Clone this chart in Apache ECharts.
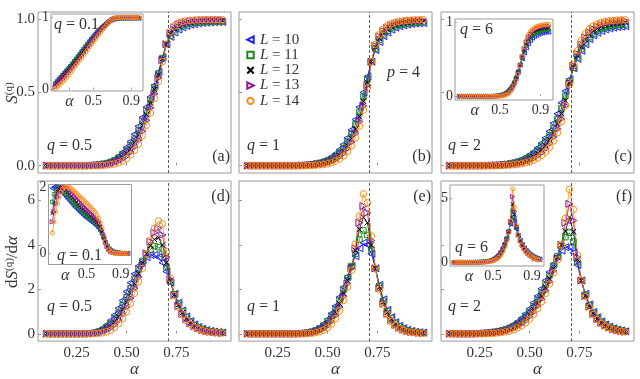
<!DOCTYPE html>
<html><head><meta charset="utf-8">
<script src="https://cdn.jsdelivr.net/npm/echarts@6/dist/echarts.min.js"></script>
<style>html,body{margin:0;padding:0;background:#fff}#c{width:640px;height:379px}</style>
</head><body><div id="c"></div>
<script>
// ---------- DATA ----------
const alpha = [0.10,0.12,0.14,0.16,0.18, 0.20,0.22,0.24,0.26,0.28, 0.30,0.32,0.34,0.36,0.38, 0.40,0.42,0.44,0.46,0.48,
  0.50,0.52,0.54,0.56,0.58, 0.60,0.62,0.64,0.66,0.68, 0.70,0.72,0.74,0.76,0.78, 0.80,0.82,0.84,0.86,0.88, 0.90,0.92,0.94,0.96,0.98];
const alphaC = 0.707;
const seriesNames = ['L = 10','L = 11','L = 12','L = 13','L = 14'];
const xTicks = [0.25, 0.50, 0.75];
const insetXTicks = [0.25, 0.5, 0.9];

// (a) S^(q), q = 0.5
const a10 = [0,0,0,0,0, 0,0,0,0,0, 0.002,0.004,0.006,0.01,0.015, 0.022,0.032,0.046,0.066,0.092, 0.125,0.165,0.215,0.27,0.33, 0.40,0.47,0.55,0.64,0.74, 0.83,0.88,0.91,0.93,0.945, 0.955,0.963,0.968,0.972,0.975, 0.977,0.979,0.98,0.981,0.982];
const a11 = [0,0,0,0,0, 0,0,0,0,0, 0.001,0.002,0.004,0.007,0.011, 0.017,0.025,0.037,0.053,0.075, 0.104,0.14,0.185,0.24,0.305, 0.375,0.45,0.535,0.63,0.735, 0.83,0.89,0.925,0.945,0.958, 0.967,0.973,0.977,0.98,0.982, 0.984,0.985,0.986,0.987,0.988];
const a12 = [0,0,0,0,0, 0,0,0,0,0, 0,0.001,0.002,0.004,0.007, 0.011,0.018,0.027,0.04,0.058, 0.083,0.115,0.157,0.21,0.275, 0.35,0.43,0.52,0.62,0.73, 0.83,0.9,0.935,0.955,0.967, 0.975,0.98,0.984,0.987,0.989, 0.99,0.991,0.992,0.993,0.993];
const a13 = [0,0,0,0,0, 0,0,0,0,0, 0,0,0,0.002,0.004, 0.007,0.012,0.019,0.029,0.044, 0.064,0.092,0.128,0.175,0.235, 0.31,0.395,0.49,0.6,0.72, 0.83,0.905,0.945,0.965,0.976, 0.983,0.987,0.99,0.992,0.994, 0.995,0.995,0.996,0.996,0.996];
const a14 = [0,0,0,0,0, 0,0,0,0,0, 0,0,0,0,0.002, 0.004,0.007,0.012,0.02,0.032, 0.049,0.073,0.105,0.148,0.205, 0.275,0.36,0.46,0.575,0.71, 0.83,0.915,0.955,0.974,0.984, 0.99,0.993,0.995,0.997,0.998, 0.998,0.998,0.998,0.998,0.998];

// (b) S^(q), q = 1
const b10 = [0,0,0,0,0, 0,0,0,0,0, 0,0.001,0.002,0.003,0.005, 0.008,0.012,0.017,0.024,0.033, 0.045,0.061,0.082,0.11,0.145, 0.19,0.245,0.315,0.4,0.5, 0.61,0.71,0.79,0.845,0.885, 0.91,0.93,0.943,0.952,0.959, 0.964,0.968,0.971,0.973,0.975];
const b11 = [0,0,0,0,0, 0,0,0,0,0, 0,0,0.001,0.002,0.003, 0.005,0.008,0.012,0.017,0.024, 0.034,0.047,0.065,0.089,0.12, 0.162,0.215,0.283,0.368,0.47, 0.59,0.71,0.8,0.858,0.897, 0.922,0.94,0.952,0.961,0.967, 0.972,0.975,0.978,0.98,0.981];
const b12 = [0,0,0,0,0, 0,0,0,0,0, 0,0,0,0.001,0.002, 0.003,0.005,0.008,0.012,0.018, 0.026,0.037,0.052,0.073,0.1, 0.137,0.186,0.25,0.335,0.44, 0.57,0.71,0.81,0.87,0.908, 0.933,0.95,0.962,0.97,0.976, 0.98,0.983,0.985,0.987,0.988];
const b13 = [0,0,0,0,0, 0,0,0,0,0, 0,0,0,0,0.001, 0.002,0.003,0.005,0.008,0.012, 0.019,0.028,0.041,0.059,0.083, 0.116,0.16,0.22,0.302,0.41, 0.55,0.71,0.82,0.883,0.92, 0.944,0.96,0.971,0.978,0.983, 0.987,0.989,0.991,0.992,0.993];
const b14 = [0,0,0,0,0, 0,0,0,0,0, 0,0,0,0,0, 0.001,0.002,0.003,0.005,0.008, 0.013,0.02,0.031,0.046,0.067, 0.096,0.136,0.19,0.27,0.38, 0.53,0.71,0.83,0.895,0.932, 0.955,0.97,0.98,0.986,0.99, 0.993,0.995,0.996,0.997,0.998];

// (c) S^(q), q = 2
const c10 = [0,0,0,0,0, 0,0,0,0.001,0.002, 0.003,0.004,0.006,0.009,0.013, 0.018,0.024,0.032,0.043,0.057, 0.075,0.096,0.122,0.153,0.19, 0.235,0.29,0.355,0.43,0.51, 0.59,0.665,0.73,0.785,0.83, 0.865,0.89,0.908,0.921,0.931, 0.938,0.943,0.947,0.95,0.953];
const c11 = [0,0,0,0,0, 0,0,0,0,0.001, 0.002,0.003,0.004,0.006,0.009, 0.013,0.018,0.025,0.034,0.046, 0.061,0.08,0.103,0.131,0.165, 0.207,0.258,0.32,0.393,0.477, 0.575,0.668,0.74,0.797,0.843, 0.878,0.903,0.921,0.934,0.944, 0.951,0.956,0.96,0.963,0.966];
const c12 = [0,0,0,0,0, 0,0,0,0,0, 0.001,0.002,0.003,0.004,0.006, 0.009,0.013,0.018,0.025,0.034, 0.046,0.062,0.082,0.107,0.139, 0.178,0.226,0.284,0.356,0.444, 0.565,0.675,0.752,0.813,0.861, 0.895,0.92,0.937,0.95,0.959, 0.966,0.971,0.975,0.978,0.98];
const c13 = [0,0,0,0,0, 0,0,0,0,0, 0,0.001,0.002,0.003,0.004, 0.006,0.009,0.013,0.019,0.026, 0.036,0.049,0.066,0.088,0.116, 0.151,0.195,0.25,0.32,0.41, 0.56,0.682,0.765,0.828,0.876, 0.911,0.935,0.952,0.964,0.973, 0.979,0.983,0.986,0.988,0.99];
const c14 = [0,0,0,0,0, 0,0,0,0,0, 0,0,0.001,0.002,0.003, 0.004,0.006,0.009,0.013,0.019, 0.027,0.037,0.051,0.07,0.094, 0.125,0.168,0.225,0.3,0.41, 0.555,0.69,0.785,0.855,0.9, 0.932,0.954,0.969,0.979,0.986, 0.99,0.993,0.995,0.996,0.997];

// (d) dS/dalpha, q = 0.5
const d10 = [0,0,0,0,0, 0,0,0,0,0, 0.01,0.03,0.07,0.14,0.25, 0.40,0.60,0.85,1.15,1.50, 1.90,2.30,2.70,3.05,3.30, 3.45,3.55,3.55,3.45,3.20, 2.80,2.30,1.80,1.40,1.05, 0.78,0.57,0.42,0.31,0.23, 0.17,0.13,0.10,0.08,0.06];
const d11 = [0,0,0,0,0, 0,0,0,0,0, 0.01,0.02,0.05,0.10,0.18, 0.30,0.46,0.68,0.95,1.28, 1.65,2.05,2.48,2.90,3.28, 3.55,3.80,3.95,3.90,3.60, 3.00,2.35,1.78,1.35,1.00, 0.73,0.53,0.39,0.28,0.20, 0.15,0.11,0.08,0.06,0.05];
const d12 = [0,0,0,0,0, 0,0,0,0,0, 0,0.01,0.03,0.07,0.13, 0.22,0.35,0.53,0.77,1.07, 1.42,1.82,2.25,2.72,3.18, 3.60,3.98,4.25,4.32,4.00, 3.20,2.40,1.76,1.30,0.95, 0.69,0.50,0.36,0.26,0.19, 0.14,0.10,0.07,0.05,0.04];
const d13 = [0,0,0,0,0, 0,0,0,0,0, 0,0.01,0.02,0.04,0.08, 0.15,0.25,0.40,0.60,0.87, 1.20,1.60,2.05,2.55,3.08, 3.62,4.15,4.55,4.75,4.45, 3.45,2.45,1.74,1.25,0.90, 0.65,0.47,0.34,0.24,0.17, 0.12,0.09,0.06,0.05,0.03];
const d14 = [0,0,0,0,0, 0,0,0,0,0, 0,0,0.01,0.02,0.05, 0.09,0.16,0.28,0.45,0.68, 0.98,1.36,1.82,2.35,2.95, 3.58,4.20,4.75,5.08,4.95, 3.70,2.50,1.72,1.20,0.85, 0.60,0.43,0.30,0.21,0.15, 0.10,0.07,0.05,0.04,0.03];

// (e) dS/dalpha, q = 1
const e10 = [0,0,0,0,0, 0,0,0,0,0, 0,0.005,0.01,0.02,0.04, 0.07,0.12,0.19,0.30,0.45, 0.65,0.92,1.25,1.65,2.10, 2.58,3.05,3.50,3.85,4.10, 4.00,3.60,2.95,2.20,1.55, 1.08,0.75,0.52,0.36,0.25, 0.18,0.13,0.09,0.07,0.05];
const e11 = [0,0,0,0,0, 0,0,0,0,0, 0,0,0.005,0.015,0.03, 0.05,0.09,0.15,0.24,0.37, 0.55,0.80,1.12,1.52,1.98, 2.50,3.05,3.60,4.25,4.65, 4.45,3.80,2.95,2.15,1.48, 1.02,0.70,0.48,0.33,0.23, 0.16,0.11,0.08,0.06,0.04];
const e12 = [0,0,0,0,0, 0,0,0,0,0, 0,0,0,0.01,0.02, 0.035,0.065,0.11,0.18,0.29, 0.45,0.67,0.97,1.36,1.84, 2.40,3.02,3.75,4.70,5.25, 5.00,4.00,2.95,2.10,1.42, 0.96,0.65,0.44,0.30,0.21, 0.14,0.10,0.07,0.05,0.04];
const e13 = [0,0,0,0,0, 0,0,0,0,0, 0,0,0,0,0.01, 0.02,0.04,0.08,0.13,0.22, 0.35,0.55,0.82,1.20,1.68, 2.26,2.94,3.85,5.00,5.75, 5.45,4.20,2.95,2.05,1.36, 0.90,0.60,0.40,0.27,0.18, 0.12,0.08,0.06,0.04,0.03];
const e14 = [0,0,0,0,0, 0,0,0,0,0, 0,0,0,0,0, 0.01,0.02,0.05,0.09,0.16, 0.27,0.44,0.68,1.03,1.50, 2.10,2.85,4.05,5.30,6.30, 5.90,4.40,2.95,2.00,1.30, 0.85,0.55,0.36,0.24,0.16, 0.10,0.07,0.05,0.03,0.02];

// (f) dS/dalpha, q = 2
const f10 = [0,0,0,0,0, 0,0.01,0.02,0.03,0.05, 0.07,0.10,0.13,0.18,0.24, 0.32,0.42,0.55,0.71,0.90, 1.13,1.40,1.70,2.03,2.40, 2.78,3.15,3.48,3.75,3.90, 3.90,3.65,3.10,2.40,1.80, 1.32,0.98,0.74,0.56,0.42, 0.32,0.25,0.19,0.15,0.11];
const f11 = [0,0,0,0,0, 0,0.005,0.01,0.02,0.035, 0.05,0.075,0.10,0.14,0.19, 0.26,0.35,0.46,0.60,0.77, 0.98,1.23,1.52,1.85,2.22, 2.62,3.05,3.50,3.95,4.35, 4.55,4.15,3.25,2.40,1.75, 1.28,0.95,0.70,0.53,0.40, 0.30,0.23,0.18,0.14,0.11];
const f12 = [0,0,0,0,0, 0,0,0.005,0.01,0.02, 0.035,0.05,0.075,0.11,0.15, 0.21,0.29,0.39,0.51,0.67, 0.86,1.10,1.38,1.70,2.07, 2.48,2.94,3.45,4.00,4.62, 5.25,4.60,3.35,2.40,1.72, 1.25,0.92,0.68,0.51,0.39, 0.29,0.22,0.17,0.13,0.10];
const f13 = [0,0,0,0,0, 0,0,0,0.005,0.01, 0.02,0.035,0.055,0.08,0.12, 0.17,0.24,0.33,0.44,0.58, 0.76,0.98,1.25,1.56,1.93, 2.35,2.83,3.38,4.00,5.00, 5.85,5.10,3.45,2.40,1.70, 1.22,0.89,0.66,0.49,0.37, 0.28,0.21,0.16,0.12,0.09];
const f14 = [0,0,0,0,0, 0,0,0,0,0.005, 0.01,0.02,0.035,0.055,0.085, 0.12,0.18,0.26,0.36,0.49, 0.66,0.87,1.13,1.44,1.81, 2.24,2.74,3.32,4.00,5.20, 6.50,5.60,3.55,2.40,1.68, 1.20,0.87,0.64,0.47,0.35, 0.26,0.19,0.14,0.11,0.08];

// inset of (a): S^(q), q = 0.1
const ai10 = [0.10,0.13,0.16,0.19,0.22, 0.25,0.28,0.31,0.34,0.375, 0.41,0.44,0.475,0.51,0.545, 0.58,0.615,0.65,0.685,0.72, 0.75,0.78,0.81,0.835,0.86, 0.885,0.905,0.925,0.945,0.96, 0.972,0.98,0.985,0.988,0.99, 0.99,0.991,0.991,0.992,0.992, 0.992,0.992,0.992,0.992,0.992];
const ai11 = [0.08,0.11,0.14,0.17,0.2, 0.23,0.26,0.29,0.32,0.355, 0.39,0.42,0.455,0.49,0.525, 0.56,0.595,0.63,0.665,0.7, 0.73,0.76,0.79,0.82,0.845, 0.872,0.895,0.917,0.938,0.957, 0.972,0.982,0.988,0.991,0.993, 0.994,0.994,0.994,0.994,0.994, 0.994,0.994,0.994,0.994,0.994];
const ai12 = [0.06,0.09,0.115,0.145,0.175, 0.205,0.235,0.265,0.298,0.332, 0.366,0.4,0.434,0.468,0.502, 0.536,0.57,0.605,0.64,0.675, 0.708,0.74,0.772,0.802,0.83, 0.858,0.884,0.908,0.932,0.954, 0.972,0.984,0.991,0.994,0.996, 0.996,0.996,0.996,0.996,0.996, 0.996,0.996,0.996,0.996,0.996];
const ai13 = [0.035,0.062,0.09,0.118,0.147, 0.177,0.207,0.238,0.27,0.303, 0.336,0.37,0.404,0.438,0.473, 0.508,0.543,0.578,0.614,0.65, 0.685,0.718,0.752,0.785,0.815, 0.846,0.875,0.902,0.928,0.952, 0.972,0.986,0.993,0.996,0.998, 0.998,0.998,0.998,0.998,0.998, 0.998,0.998,0.998,0.998,0.998];
const ai14 = [0.015,0.035,0.06,0.085,0.11, 0.14,0.17,0.2,0.235,0.27, 0.305,0.34,0.375,0.41,0.445, 0.48,0.515,0.55,0.59,0.625, 0.66,0.695,0.73,0.765,0.8, 0.835,0.865,0.895,0.925,0.95, 0.972,0.99,0.996,0.998,0.999, 1,1,1,1,1, 1,1,1,1,1];

// inset of (c): S^(q), q = 6
const ci10 = [0,0,0,0,0, 0,0,0,0,0, 0,0,0,0,0, 0,0.002,0.004,0.007,0.011, 0.017,0.025,0.037,0.053,0.075, 0.105,0.145,0.197,0.262,0.34, 0.425,0.51,0.59,0.66,0.715, 0.76,0.792,0.815,0.832,0.845, 0.855,0.862,0.867,0.871,0.874];
const ci11 = [0,0,0,0,0, 0,0,0,0,0, 0,0,0,0,0, 0,0,0.002,0.004,0.007, 0.012,0.019,0.029,0.044,0.065, 0.094,0.134,0.188,0.256,0.338, 0.43,0.525,0.612,0.687,0.745, 0.79,0.822,0.846,0.863,0.876, 0.886,0.893,0.898,0.902,0.905];
const ci12 = [0,0,0,0,0, 0,0,0,0,0, 0,0,0,0,0, 0,0,0,0.002,0.004, 0.008,0.014,0.023,0.036,0.055, 0.082,0.12,0.172,0.24,0.325, 0.425,0.53,0.628,0.71,0.772, 0.818,0.851,0.874,0.891,0.903, 0.912,0.918,0.923,0.926,0.928];
const ci13 = [0,0,0,0,0, 0,0,0,0,0, 0,0,0,0,0, 0,0,0,0,0.002, 0.005,0.009,0.016,0.027,0.044, 0.069,0.105,0.156,0.224,0.312, 0.42,0.537,0.645,0.733,0.798, 0.844,0.877,0.9,0.917,0.929, 0.938,0.944,0.949,0.952,0.954];
const ci14 = [0,0,0,0,0, 0,0,0,0,0, 0,0,0,0,0, 0,0,0,0,0, 0.002,0.005,0.01,0.018,0.032, 0.054,0.088,0.138,0.207,0.298, 0.415,0.545,0.665,0.76,0.83, 0.876,0.908,0.93,0.945,0.956, 0.964,0.97,0.974,0.977,0.979];

// inset of (d): dS/dalpha, q = 0.1
const di10 = [1.95,2.0,2.0,1.97,1.93, 1.88,1.82,1.76,1.70,1.64, 1.58,1.52,1.46,1.40,1.35, 1.30,1.25,1.20,1.15,1.10, 1.06,1.02,0.98,0.94,0.90, 0.86,0.81,0.75,0.67,0.57, 0.45,0.33,0.22,0.14,0.09, 0.06,0.04,0.03,0.02,0.015, 0.01,0.008,0.006,0.005,0.004];
const di11 = [1.55,1.78,1.92,1.98,1.98, 1.95,1.9,1.85,1.79,1.73, 1.67,1.61,1.55,1.49,1.44, 1.39,1.34,1.29,1.24,1.19, 1.14,1.1,1.05,1.01,0.97, 0.93,0.88,0.82,0.73,0.61, 0.47,0.33,0.21,0.13,0.08, 0.05,0.035,0.025,0.018,0.012, 0.008,0.006,0.004,0.003,0.002];
const di12 = [1.2,1.5,1.72,1.86,1.94, 1.98,1.98,1.95,1.9,1.84, 1.78,1.72,1.66,1.6,1.54, 1.48,1.43,1.38,1.33,1.28, 1.23,1.18,1.13,1.09,1.04, 1.0,0.95,0.88,0.79,0.66, 0.5,0.34,0.21,0.12,0.07, 0.045,0.03,0.02,0.014,0.01, 0.007,0.005,0.003,0.002,0.001];
const di13 = [0.95,1.25,1.5,1.69,1.83, 1.92,1.97,1.99,1.98,1.95, 1.9,1.84,1.78,1.72,1.66, 1.6,1.54,1.49,1.43,1.38, 1.33,1.28,1.23,1.18,1.13, 1.08,1.02,0.95,0.85,0.71, 0.53,0.35,0.21,0.12,0.065, 0.04,0.025,0.016,0.01,0.007, 0.005,0.003,0.002,0.001,0.001];
const di14 = [0.62,0.95,1.25,1.5,1.7, 1.84,1.93,1.98,2.0,2.0, 1.98,1.95,1.91,1.86,1.81, 1.76,1.71,1.66,1.61,1.56, 1.51,1.46,1.41,1.36,1.3, 1.24,1.16,1.06,0.93,0.76, 0.56,0.36,0.21,0.11,0.06, 0.035,0.02,0.012,0.008,0.005, 0.003,0.002,0.001,0.001,0];

// inset of (f): dS/dalpha, q = 6
const fi10 = [0,0,0,0,0, 0,0,0,0,0, 0,0.01,0.015,0.02,0.03, 0.045,0.065,0.09,0.13,0.18, 0.25,0.35,0.48,0.65,0.87, 1.15,1.5,1.92,2.42,3.0, 3.55,3.2,2.6,2.1,1.7, 1.38,1.12,0.92,0.76,0.62, 0.51,0.42,0.35,0.29,0.25];
const fi11 = [0,0,0,0,0, 0,0,0,0,0, 0,0.005,0.01,0.015,0.022, 0.033,0.048,0.07,0.1,0.145, 0.21,0.3,0.42,0.58,0.8, 1.08,1.44,1.88,2.42,3.1, 4.05,3.5,2.7,2.12,1.7, 1.37,1.11,0.9,0.74,0.6, 0.49,0.4,0.33,0.27,0.23];
const fi12 = [0,0,0,0,0, 0,0,0,0,0, 0,0,0.005,0.01,0.016, 0.025,0.037,0.055,0.08,0.118, 0.175,0.255,0.365,0.515,0.725, 1.0,1.36,1.82,2.4,3.15, 4.55,3.75,2.78,2.14,1.69, 1.35,1.09,0.88,0.72,0.58, 0.47,0.38,0.31,0.26,0.21];
const fi13 = [0,0,0,0,0, 0,0,0,0,0, 0,0,0,0.005,0.01, 0.017,0.027,0.041,0.062,0.094, 0.142,0.212,0.31,0.45,0.65, 0.92,1.28,1.75,2.36,3.2, 5.15,4.0,2.85,2.15,1.68, 1.33,1.07,0.86,0.7,0.56, 0.45,0.36,0.29,0.24,0.19];
const fi14 = [0,0,0,0,0, 0,0,0,0,0, 0,0,0,0,0.005, 0.01,0.018,0.029,0.046,0.072, 0.112,0.172,0.26,0.39,0.575, 0.84,1.2,1.68,2.32,3.25, 5.75,4.3,2.92,2.16,1.67, 1.31,1.05,0.84,0.68,0.54, 0.43,0.34,0.27,0.22,0.18];

// ---------- STYLE / LAYOUT ----------
const FONT = "'Liberation Serif', 'DejaVu Serif', serif";
const TXT = '#333';
const FRAME = '#999';
const colors = ['#1f1fff', '#1a8a1a', '#000000', '#8b1a8b', '#ff8c1a'];
const symbols = ['triangle', 'rect', 'path://M0,0L10,10M10,0L0,10', 'triangle', 'circle'];
const rotations = [90, 0, 0, -90, 0];
const symSize = [7, 5.5, 5.5, 7, 6.5];

const panels = [
  {pos:{left:38, top:12, width:193, height:161}, sets:[a10,a11,a12,a13,a14], y:[-0.05,1.05], yt:[0,0.5,1], yl:v=>v.toFixed(1), xl:false},
  {pos:{left:239, top:12, width:193, height:161}, sets:[b10,b11,b12,b13,b14], y:[-0.05,1.05], yt:[0,0.5,1], yl:null, xl:false},
  {pos:{left:441, top:12, width:193, height:161}, sets:[c10,c11,c12,c13,c14], y:[-0.05,1.05], yt:[0,0.5,1], yl:null, xl:false},
  {pos:{left:38, top:181, width:193, height:161}, sets:[d10,d11,d12,d13,d14], y:[-0.33,6.88], yt:[0,2,4,6], yl:v=>String(v), xl:true},
  {pos:{left:239, top:181, width:193, height:161}, sets:[e10,e11,e12,e13,e14], y:[-0.33,6.88], yt:[0,2,4,6], yl:null, xl:true},
  {pos:{left:441, top:181, width:193, height:161}, sets:[f10,f11,f12,f13,f14], y:[-0.33,6.88], yt:[0,2,4,6], yl:null, xl:true},
  {pos:{left:51, top:14, width:92, height:77}, sets:[ai10,ai11,ai12,ai13,ai14], y:[-0.02,1.05], yt:[0,1], yl:v=>String(v), inset:true},
  {pos:{left:455, top:19, width:98, height:81}, sets:[ci10,ci11,ci12,ci13,ci14], y:[-0.05,1.05], yt:[0,1], yl:v=>String(v), inset:true},
  {pos:{left:48.5, top:184.5, width:83, height:80}, sets:[di10,di11,di12,di13,di14], y:[-0.33,2.07], yt:[0,2], yl:v=>String(v), inset:true},
  {pos:{left:450, top:185, width:94, height:81}, sets:[fi10,fi11,fi12,fi13,fi14], y:[-0.29,6.06], yt:[0,5], yl:v=>String(v), inset:true}
];

const grid = [], xAxis = [], yAxis = [], series = [];
panels.forEach((p, gi) => {
  const ins = !!p.inset;
  const z = ins ? 10 : 0;
  grid.push(Object.assign({show:true, borderColor:FRAME, borderWidth:1, backgroundColor:'#fff', z:z, containLabel:false}, p.pos));
  const xt = ins ? insetXTicks : xTicks;
  xAxis.push({
    type:'value', gridIndex:gi, min:0.056, max:1.024, z:z+1,
    splitLine:{show:false}, axisLine:{show:false},
    axisTick:{show:true, inside:true, length:ins?2:3, customValues:xt, lineStyle:{color:FRAME}},
    axisLabel:{show: ins || p.xl, customValues:xt, margin:ins?3:4, color:TXT, fontFamily:FONT, fontSize:ins?14:15,
      formatter: v => ins ? (Math.abs(v-0.25)<1e-6 ? '{i|α}' : String(v)) : v.toFixed(2),
      rich:{i:{fontStyle:'italic', fontFamily:FONT, fontSize:16, color:TXT}}},
    name: (!ins && p.xl) ? 'α' : '', nameLocation:'middle', nameGap:18,
    nameTextStyle:{fontFamily:FONT, fontStyle:'italic', fontSize:17, color:TXT}
  });
  yAxis.push({
    type:'value', gridIndex:gi, min:p.y[0], max:p.y[1], z:z+1,
    splitLine:{show:false}, axisLine:{show:false},
    axisTick:{show:true, inside:true, length:ins?2:3, customValues:p.yt, lineStyle:{color:FRAME}},
    axisLabel:{show: !!p.yl, customValues:p.yt, margin:ins?2:3, color:TXT, fontFamily:FONT, fontSize:ins?14:15,
      formatter: v => p.yl ? p.yl(v) : ''}
  });
  p.sets.forEach((vals, k) => {
    const s = {
      type:'line', name:seriesNames[k], xAxisIndex:gi, yAxisIndex:gi, z: ins?12:2,
      data: alpha.map((a, i) => [a, vals[i]]),
      symbol:symbols[k], symbolRotate:rotations[k], symbolSize: ins ? symSize[k]*0.62 : symSize[k],
      showAllSymbol:true, animation:false,
      lineStyle:{color:colors[k], width:0.8},
      itemStyle:{color:'rgba(255,255,255,0)', borderColor:colors[k], borderWidth:ins?0.9:1},
      emphasis:{disabled:true}
    };
    if (k === 0) {
      s.markLine = {silent:true, symbol:'none', label:{show:false}, animation:false,
        lineStyle:{type:[3,2], color:'#333', width:0.8}, data:[{xAxis:alphaC}]};
    }
    series.push(s);
  });
});

function t(x, y, text, opts) {
  return Object.assign({type:'text', x:x, y:y, z:50, style:{text:text, fill:TXT, fontFamily:FONT, fontSize:16,
    align:(opts&&opts.align)||'left', verticalAlign:'middle',
    rich:{i:{fontStyle:'italic', fontFamily:FONT, fontSize:16, fill:TXT}, r:{fontFamily:FONT, fontSize:16, fill:TXT}}}}, opts&&opts.extra||{});
}
const graphics = [
  t(47, 146, '{i|q} = 0.5'), t(230, 157, '(a)', {align:'right'}),
  t(247, 146, '{i|q} = 1'), t(431, 157, '(b)', {align:'right'}), t(387, 73, '{i|p} = 4'),
  t(448, 146, '{i|q} = 2'), t(632, 157, '(c)', {align:'right'}),
  t(54, 25, '{i|q} = 0.1'), t(460, 30, '{i|q} = 6'),
  t(47, 307, '{i|q} = 0.5'), t(230, 197, '(d)', {align:'right'}),
  t(247, 307, '{i|q} = 1'), t(431, 197, '(e)', {align:'right'}),
  t(448, 307, '{i|q} = 2'), t(632, 197, '(f)', {align:'right'}),
  t(57, 256, '{i|q} = 0.1'), t(455, 248, '{i|q} = 6'),
  {type:'text', x:13, y:93, rotation:Math.PI/2, z:50, style:{text:'{s|S}{p|(q)}', align:'center', verticalAlign:'middle',
    rich:{s:{fontFamily:FONT, fontStyle:'italic', fontSize:17, fill:TXT}, p:{fontFamily:FONT, fontSize:11, fill:TXT, verticalAlign:'top', padding:[0,0,8,0]}}}},
  {type:'text', x:13, y:262, rotation:Math.PI/2, z:50, style:{text:'{r|d}{s|S}{p|(q)}{r|/d}{i|α}', align:'center', verticalAlign:'middle',
    rich:{r:{fontFamily:FONT, fontSize:17, fill:TXT}, i:{fontFamily:FONT, fontStyle:'italic', fontSize:17, fill:TXT},
      s:{fontFamily:FONT, fontStyle:'italic', fontSize:17, fill:TXT}, p:{fontFamily:FONT, fontSize:11, fill:TXT, verticalAlign:'top', padding:[0,0,8,0]}}}}
];

const chart = echarts.init(document.getElementById('c'), null, {renderer:'canvas'});
chart.setOption({
  animation:false,
  backgroundColor:'#fff',
  grid:grid, xAxis:xAxis, yAxis:yAxis, series:series,
  legend:{
    data:seriesNames, orient:'vertical', left:246, top:32, padding:0, itemGap:0, itemWidth:9, itemHeight:8,
    selectedMode:false, lineStyle:{width:0, opacity:0},
    formatter: n => '{i|L} = ' + n.split('= ')[1],
    textStyle:{fontFamily:FONT, fontSize:15, color:TXT, lineHeight:15.3,
      rich:{i:{fontFamily:FONT, fontStyle:'italic', fontSize:15, color:TXT, lineHeight:15.3}}}
  },
  graphic:graphics
});
</script></body></html>
